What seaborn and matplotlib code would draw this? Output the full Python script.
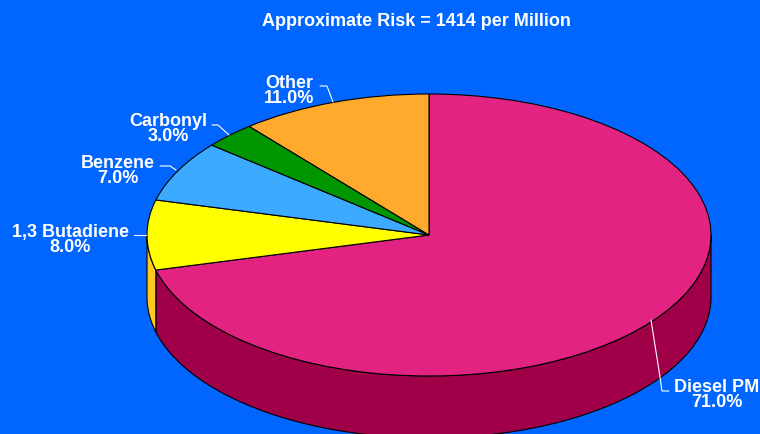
import numpy as np
import seaborn as sns
import matplotlib.pyplot as plt

# pie data, clockwise from 12 o'clock
labels = ["Diesel PM", "1,3 Butadiene", "Benzene", "Carbonyl", "Other"]
shares = [71.0, 8.0, 7.0, 3.0, 11.0]
colors = ["#E32382", "#FFFF00", "#3CAAFF", "#009600", "#FFAA2D"]
side_colors = ["#A00048", "#FFC820", "#2A78B4", "#006A00", "#B47820"]
title = "Approximate Risk = 1414 per Million"

bg = "#0066FF"
W, H = 760, 434
cx, cy, rx, ry = 429, 235, 282, 141
depth = 62

# label anchor (pixels) and leader lines (pixels)
label_pos = [(717, 395), (70, 240), (118, 171), (168, 129), (289, 91)]
leaders = [
    [(651, 320), (660, 377), (662, 391), (669, 391)],
    [(146, 235), (134, 235)],
    [(176, 170), (170, 166), (160, 166)],
    [(229, 135), (218, 125), (212, 125)],
    [(333, 102), (327, 86), (320, 86)],
]

sns.set_theme(style="white")
plt.rcParams["font.family"] = ["Liberation Sans", "DejaVu Sans"]
plt.rcParams["font.weight"] = "bold"


def px(x, y):
    # picture pixels to pie units
    return (x - cx) / rx, (cy - y) / ry


fig = plt.figure(figsize=(W / 100, H / 100), dpi=100, facecolor=bg)
ax = fig.add_axes([0, 0, 1, 1])
ax.set_facecolor(bg)

# side wall, only the part of each slice on the lower half of the rim
d = depth / ry
edges = np.cumsum([0] + shares) / 100 * 360
for i in range(len(shares)):
    a = max(edges[i], 90)
    b = min(edges[i + 1], 270)
    if b <= a:
        continue
    t = np.radians(np.linspace(a, b, 200))
    x = np.sin(t)
    y = np.cos(t)
    ax.fill(np.r_[x, x[::-1]], np.r_[y, y[::-1] - d],
            facecolor=side_colors[i], edgecolor="black", lw=0.8, zorder=1)

ax.pie(shares, colors=colors, startangle=90, counterclock=False, radius=1,
       wedgeprops={"edgecolor": "black", "linewidth": 0.8, "zorder": 2})
ax.set_aspect("auto")
ax.set_xlim(-cx / rx, (W - cx) / rx)
ax.set_ylim((cy - H) / ry, cy / ry)

for line in leaders:
    pts = [px(*p) for p in line]
    ax.plot([p[0] for p in pts], [p[1] for p in pts], color="white", lw=0.8, zorder=3)

for name, share, pos in zip(labels, shares, label_pos):
    x, y = px(*pos)
    ax.text(x, y, f"{name}\n{share:.1f}%", color="white", fontsize=13,
            fontweight="bold", ha="center", va="center", linespacing=0.92, zorder=4)

fig.text(416.5 / W, 1 - 21.5 / H, title, color="white", fontsize=13, fontweight="bold",
         ha="center", va="center")

fig.savefig("out.png", dpi=100, facecolor=bg)
